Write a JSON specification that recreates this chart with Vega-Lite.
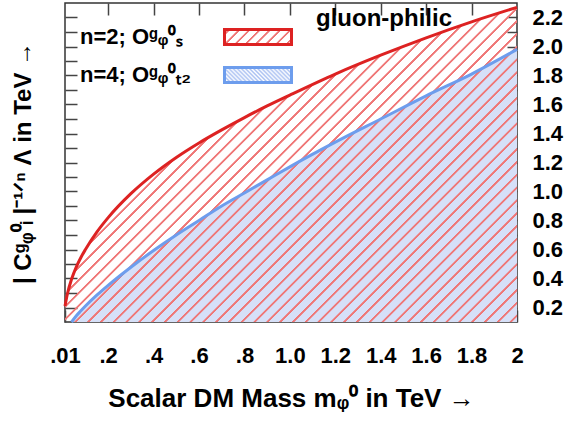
{
"$schema": "https://vega.github.io/schema/vega-lite/v6.json",
"width": 452, "height": 319,
"autosize": {"type": "none"},
"padding": {"left": 65, "top": 3, "right": 50, "bottom": 101},
"background": "white",
"title": {"text": "gluon-philic", "anchor": "end", "frame": "group", "offset": -25, "dx": -65, "dy": 24, "baseline": "alphabetic", "fontSize": 24, "font": "Liberation Sans", "fontWeight": "bold", "color": "#000"},
"config": {
  "view": {"stroke": "#333", "strokeWidth": 1.5},
  "font": "Liberation Sans",
  "axis": {"domain": false, "grid": false, "tickColor": "#444", "tickWidth": 1.5, "labelFont": "Liberation Sans", "labelFontWeight": "bold", "labelFontSize": 22, "labelColor": "#000", "titleFont": "Liberation Sans", "titleFontWeight": "bold", "titleColor": "#000"}
},
"data": {"values": [
  {"series": "n=2; Oᵍᵩ⁰ₛ", "n": 2, "m": 0.01, "v": 0.21},
  {"series": "n=2; Oᵍᵩ⁰ₛ", "n": 2, "m": 0.02, "v": 0.29},
  {"series": "n=2; Oᵍᵩ⁰ₛ", "n": 2, "m": 0.04, "v": 0.40},
  {"series": "n=2; Oᵍᵩ⁰ₛ", "n": 2, "m": 0.06, "v": 0.48},
  {"series": "n=2; Oᵍᵩ⁰ₛ", "n": 2, "m": 0.08, "v": 0.545},
  {"series": "n=2; Oᵍᵩ⁰ₛ", "n": 2, "m": 0.10, "v": 0.60},
  {"series": "n=2; Oᵍᵩ⁰ₛ", "n": 2, "m": 0.15, "v": 0.72},
  {"series": "n=2; Oᵍᵩ⁰ₛ", "n": 2, "m": 0.20, "v": 0.82},
  {"series": "n=2; Oᵍᵩ⁰ₛ", "n": 2, "m": 0.30, "v": 0.985},
  {"series": "n=2; Oᵍᵩ⁰ₛ", "n": 2, "m": 0.40, "v": 1.12},
  {"series": "n=2; Oᵍᵩ⁰ₛ", "n": 2, "m": 0.50, "v": 1.235},
  {"series": "n=2; Oᵍᵩ⁰ₛ", "n": 2, "m": 0.60, "v": 1.335},
  {"series": "n=2; Oᵍᵩ⁰ₛ", "n": 2, "m": 0.70, "v": 1.425},
  {"series": "n=2; Oᵍᵩ⁰ₛ", "n": 2, "m": 0.80, "v": 1.51},
  {"series": "n=2; Oᵍᵩ⁰ₛ", "n": 2, "m": 0.90, "v": 1.59},
  {"series": "n=2; Oᵍᵩ⁰ₛ", "n": 2, "m": 1.00, "v": 1.665},
  {"series": "n=2; Oᵍᵩ⁰ₛ", "n": 2, "m": 1.20, "v": 1.81},
  {"series": "n=2; Oᵍᵩ⁰ₛ", "n": 2, "m": 1.40, "v": 1.94},
  {"series": "n=2; Oᵍᵩ⁰ₛ", "n": 2, "m": 1.60, "v": 2.06},
  {"series": "n=2; Oᵍᵩ⁰ₛ", "n": 2, "m": 1.80, "v": 2.17},
  {"series": "n=2; Oᵍᵩ⁰ₛ", "n": 2, "m": 2.00, "v": 2.27},
  {"series": "n=4; Oᵍᵩ⁰ₜ₂", "n": 4, "m": 0.039, "v": 0.10},
  {"series": "n=4; Oᵍᵩ⁰ₜ₂", "n": 4, "m": 0.06, "v": 0.143},
  {"series": "n=4; Oᵍᵩ⁰ₜ₂", "n": 4, "m": 0.08, "v": 0.177},
  {"series": "n=4; Oᵍᵩ⁰ₜ₂", "n": 4, "m": 0.10, "v": 0.21},
  {"series": "n=4; Oᵍᵩ⁰ₜ₂", "n": 4, "m": 0.15, "v": 0.285},
  {"series": "n=4; Oᵍᵩ⁰ₜ₂", "n": 4, "m": 0.20, "v": 0.353},
  {"series": "n=4; Oᵍᵩ⁰ₜ₂", "n": 4, "m": 0.30, "v": 0.478},
  {"series": "n=4; Oᵍᵩ⁰ₜ₂", "n": 4, "m": 0.40, "v": 0.593},
  {"series": "n=4; Oᵍᵩ⁰ₜ₂", "n": 4, "m": 0.50, "v": 0.70},
  {"series": "n=4; Oᵍᵩ⁰ₜ₂", "n": 4, "m": 0.60, "v": 0.80},
  {"series": "n=4; Oᵍᵩ⁰ₜ₂", "n": 4, "m": 0.70, "v": 0.90},
  {"series": "n=4; Oᵍᵩ⁰ₜ₂", "n": 4, "m": 0.80, "v": 0.99},
  {"series": "n=4; Oᵍᵩ⁰ₜ₂", "n": 4, "m": 0.90, "v": 1.08},
  {"series": "n=4; Oᵍᵩ⁰ₜ₂", "n": 4, "m": 1.00, "v": 1.17},
  {"series": "n=4; Oᵍᵩ⁰ₜ₂", "n": 4, "m": 1.20, "v": 1.34},
  {"series": "n=4; Oᵍᵩ⁰ₜ₂", "n": 4, "m": 1.40, "v": 1.50},
  {"series": "n=4; Oᵍᵩ⁰ₜ₂", "n": 4, "m": 1.60, "v": 1.66},
  {"series": "n=4; Oᵍᵩ⁰ₜ₂", "n": 4, "m": 1.80, "v": 1.81},
  {"series": "n=4; Oᵍᵩ⁰ₜ₂", "n": 4, "m": 2.00, "v": 1.98}
]},
"resolve": {"axis": {"x": "independent", "y": "independent"}},
"layer": [
  {
    "transform": [{"filter": "datum.n == 4"}],
    "mark": {"type": "area", "interpolate": "monotone", "fill": "#d6e0f8"},
    "encoding": {
      "x": {"field": "m", "type": "quantitative", "scale": {"domain": [0.01, 2], "nice": false, "zero": false},
        "axis": {"orient": "bottom", "values": [0.01, 0.2, 0.4, 0.6, 0.8, 1.0, 1.2, 1.4, 1.6, 1.8, 2.0],
          "labelExpr": "datum.value == 0.01 ? '.01' : datum.value == 2 ? '2' : datum.value < 1 ? replace(format(datum.value, '.1f'), '0.', '.') : format(datum.value, '.1f')",
          "tickSize": -12, "labelPadding": 35, "labelFlush": false, "labelOverlap": false,
          "title": "Scalar DM Mass mᵩ⁰ in TeV →", "titleFontSize": 26, "titlePadding": 19}},
      "y": {"field": "v", "type": "quantitative", "scale": {"domain": [0.1, 2.3], "nice": false, "zero": false},
        "axis": {"orient": "left", "values": [0.2,0.3,0.4,0.5,0.6,0.7,0.8,0.9,1.0,1.1,1.2,1.3,1.4,1.5,1.6,1.7,1.8,1.9,2.0,2.1,2.2],
          "labels": false, "tickSize": -12,
          "title": "| Cᵍᵩ⁰ᵢ |⁻¹ᐟⁿ Λ in TeV →", "titleFontSize": 24, "titlePadding": 29}},
      "y2": {"datum": 0.1}
    }
  },
  {
    "transform": [{"filter": "datum.n == 2"}],
    "mark": {"type": "area", "interpolate": "monotone",
      "fill": {"gradient": "linear", "x1": 0, "y1": 0, "x2": 1.1426, "y2": 0.7952, "stops": [
{"offset":0.0040,"color":"rgba(239,119,119,0)"},{"offset":0.0050,"color":"#ef7777"},{"offset":0.0075,"color":"#ef7777"},{"offset":0.0085,"color":"rgba(239,119,119,0)"},
{"offset":0.0207,"color":"rgba(239,119,119,0)"},{"offset":0.0217,"color":"#ef7777"},{"offset":0.0242,"color":"#ef7777"},{"offset":0.0252,"color":"rgba(239,119,119,0)"},
{"offset":0.0374,"color":"rgba(239,119,119,0)"},{"offset":0.0384,"color":"#ef7777"},{"offset":0.0409,"color":"#ef7777"},{"offset":0.0419,"color":"rgba(239,119,119,0)"},
{"offset":0.0541,"color":"rgba(239,119,119,0)"},{"offset":0.0551,"color":"#ef7777"},{"offset":0.0576,"color":"#ef7777"},{"offset":0.0586,"color":"rgba(239,119,119,0)"},
{"offset":0.0708,"color":"rgba(239,119,119,0)"},{"offset":0.0718,"color":"#ef7777"},{"offset":0.0743,"color":"#ef7777"},{"offset":0.0753,"color":"rgba(239,119,119,0)"},
{"offset":0.0875,"color":"rgba(239,119,119,0)"},{"offset":0.0885,"color":"#ef7777"},{"offset":0.0910,"color":"#ef7777"},{"offset":0.0920,"color":"rgba(239,119,119,0)"},
{"offset":0.1042,"color":"rgba(239,119,119,0)"},{"offset":0.1052,"color":"#ef7777"},{"offset":0.1077,"color":"#ef7777"},{"offset":0.1087,"color":"rgba(239,119,119,0)"},
{"offset":0.1209,"color":"rgba(239,119,119,0)"},{"offset":0.1219,"color":"#ef7777"},{"offset":0.1244,"color":"#ef7777"},{"offset":0.1254,"color":"rgba(239,119,119,0)"},
{"offset":0.1376,"color":"rgba(239,119,119,0)"},{"offset":0.1386,"color":"#ef7777"},{"offset":0.1411,"color":"#ef7777"},{"offset":0.1421,"color":"rgba(239,119,119,0)"},
{"offset":0.1543,"color":"rgba(239,119,119,0)"},{"offset":0.1553,"color":"#ef7777"},{"offset":0.1578,"color":"#ef7777"},{"offset":0.1588,"color":"rgba(239,119,119,0)"},
{"offset":0.1710,"color":"rgba(239,119,119,0)"},{"offset":0.1720,"color":"#ef7777"},{"offset":0.1745,"color":"#ef7777"},{"offset":0.1755,"color":"rgba(239,119,119,0)"},
{"offset":0.1877,"color":"rgba(239,119,119,0)"},{"offset":0.1887,"color":"#ef7777"},{"offset":0.1912,"color":"#ef7777"},{"offset":0.1922,"color":"rgba(239,119,119,0)"},
{"offset":0.2044,"color":"rgba(239,119,119,0)"},{"offset":0.2054,"color":"#ef7777"},{"offset":0.2079,"color":"#ef7777"},{"offset":0.2089,"color":"rgba(239,119,119,0)"},
{"offset":0.2211,"color":"rgba(239,119,119,0)"},{"offset":0.2221,"color":"#ef7777"},{"offset":0.2246,"color":"#ef7777"},{"offset":0.2256,"color":"rgba(239,119,119,0)"},
{"offset":0.2378,"color":"rgba(239,119,119,0)"},{"offset":0.2388,"color":"#ef7777"},{"offset":0.2413,"color":"#ef7777"},{"offset":0.2423,"color":"rgba(239,119,119,0)"},
{"offset":0.2545,"color":"rgba(239,119,119,0)"},{"offset":0.2555,"color":"#ef7777"},{"offset":0.2580,"color":"#ef7777"},{"offset":0.2590,"color":"rgba(239,119,119,0)"},
{"offset":0.2712,"color":"rgba(239,119,119,0)"},{"offset":0.2722,"color":"#ef7777"},{"offset":0.2747,"color":"#ef7777"},{"offset":0.2757,"color":"rgba(239,119,119,0)"},
{"offset":0.2879,"color":"rgba(239,119,119,0)"},{"offset":0.2889,"color":"#ef7777"},{"offset":0.2914,"color":"#ef7777"},{"offset":0.2924,"color":"rgba(239,119,119,0)"},
{"offset":0.3046,"color":"rgba(239,119,119,0)"},{"offset":0.3056,"color":"#ef7777"},{"offset":0.3081,"color":"#ef7777"},{"offset":0.3091,"color":"rgba(239,119,119,0)"},
{"offset":0.3213,"color":"rgba(239,119,119,0)"},{"offset":0.3223,"color":"#ef7777"},{"offset":0.3248,"color":"#ef7777"},{"offset":0.3258,"color":"rgba(239,119,119,0)"},
{"offset":0.3380,"color":"rgba(239,119,119,0)"},{"offset":0.3390,"color":"#ef7777"},{"offset":0.3415,"color":"#ef7777"},{"offset":0.3425,"color":"rgba(239,119,119,0)"},
{"offset":0.3547,"color":"rgba(239,119,119,0)"},{"offset":0.3557,"color":"#ef7777"},{"offset":0.3582,"color":"#ef7777"},{"offset":0.3592,"color":"rgba(239,119,119,0)"},
{"offset":0.3714,"color":"rgba(239,119,119,0)"},{"offset":0.3724,"color":"#ef7777"},{"offset":0.3749,"color":"#ef7777"},{"offset":0.3759,"color":"rgba(239,119,119,0)"},
{"offset":0.3881,"color":"rgba(239,119,119,0)"},{"offset":0.3891,"color":"#ef7777"},{"offset":0.3916,"color":"#ef7777"},{"offset":0.3926,"color":"rgba(239,119,119,0)"},
{"offset":0.4048,"color":"rgba(239,119,119,0)"},{"offset":0.4058,"color":"#ef7777"},{"offset":0.4083,"color":"#ef7777"},{"offset":0.4093,"color":"rgba(239,119,119,0)"},
{"offset":0.4215,"color":"rgba(239,119,119,0)"},{"offset":0.4225,"color":"#ef7777"},{"offset":0.4250,"color":"#ef7777"},{"offset":0.4260,"color":"rgba(239,119,119,0)"},
{"offset":0.4382,"color":"rgba(239,119,119,0)"},{"offset":0.4392,"color":"#ef7777"},{"offset":0.4417,"color":"#ef7777"},{"offset":0.4427,"color":"rgba(239,119,119,0)"},
{"offset":0.4549,"color":"rgba(239,119,119,0)"},{"offset":0.4559,"color":"#ef7777"},{"offset":0.4584,"color":"#ef7777"},{"offset":0.4594,"color":"rgba(239,119,119,0)"},
{"offset":0.4716,"color":"rgba(239,119,119,0)"},{"offset":0.4726,"color":"#ef7777"},{"offset":0.4751,"color":"#ef7777"},{"offset":0.4761,"color":"rgba(239,119,119,0)"},
{"offset":0.4883,"color":"rgba(239,119,119,0)"},{"offset":0.4893,"color":"#ef7777"},{"offset":0.4918,"color":"#ef7777"},{"offset":0.4928,"color":"rgba(239,119,119,0)"},
{"offset":0.5050,"color":"rgba(239,119,119,0)"},{"offset":0.5060,"color":"#ef7777"},{"offset":0.5085,"color":"#ef7777"},{"offset":0.5095,"color":"rgba(239,119,119,0)"},
{"offset":0.5217,"color":"rgba(239,119,119,0)"},{"offset":0.5227,"color":"#ef7777"},{"offset":0.5252,"color":"#ef7777"},{"offset":0.5262,"color":"rgba(239,119,119,0)"},
{"offset":0.5384,"color":"rgba(239,119,119,0)"},{"offset":0.5394,"color":"#ef7777"},{"offset":0.5419,"color":"#ef7777"},{"offset":0.5429,"color":"rgba(239,119,119,0)"},
{"offset":0.5551,"color":"rgba(239,119,119,0)"},{"offset":0.5561,"color":"#ef7777"},{"offset":0.5586,"color":"#ef7777"},{"offset":0.5596,"color":"rgba(239,119,119,0)"},
{"offset":0.5718,"color":"rgba(239,119,119,0)"},{"offset":0.5728,"color":"#ef7777"},{"offset":0.5753,"color":"#ef7777"},{"offset":0.5763,"color":"rgba(239,119,119,0)"},
{"offset":0.5885,"color":"rgba(239,119,119,0)"},{"offset":0.5895,"color":"#ef7777"},{"offset":0.5920,"color":"#ef7777"},{"offset":0.5930,"color":"rgba(239,119,119,0)"},
{"offset":0.6052,"color":"rgba(239,119,119,0)"},{"offset":0.6062,"color":"#ef7777"},{"offset":0.6087,"color":"#ef7777"},{"offset":0.6097,"color":"rgba(239,119,119,0)"},
{"offset":0.6219,"color":"rgba(239,119,119,0)"},{"offset":0.6229,"color":"#ef7777"},{"offset":0.6254,"color":"#ef7777"},{"offset":0.6264,"color":"rgba(239,119,119,0)"},
{"offset":0.6386,"color":"rgba(239,119,119,0)"},{"offset":0.6396,"color":"#ef7777"},{"offset":0.6421,"color":"#ef7777"},{"offset":0.6431,"color":"rgba(239,119,119,0)"},
{"offset":0.6553,"color":"rgba(239,119,119,0)"},{"offset":0.6563,"color":"#ef7777"},{"offset":0.6588,"color":"#ef7777"},{"offset":0.6598,"color":"rgba(239,119,119,0)"},
{"offset":0.6720,"color":"rgba(239,119,119,0)"},{"offset":0.6730,"color":"#ef7777"},{"offset":0.6755,"color":"#ef7777"},{"offset":0.6765,"color":"rgba(239,119,119,0)"},
{"offset":0.6887,"color":"rgba(239,119,119,0)"},{"offset":0.6897,"color":"#ef7777"},{"offset":0.6922,"color":"#ef7777"},{"offset":0.6932,"color":"rgba(239,119,119,0)"},
{"offset":0.7054,"color":"rgba(239,119,119,0)"},{"offset":0.7064,"color":"#ef7777"},{"offset":0.7089,"color":"#ef7777"},{"offset":0.7099,"color":"rgba(239,119,119,0)"},
{"offset":0.7221,"color":"rgba(239,119,119,0)"},{"offset":0.7231,"color":"#ef7777"},{"offset":0.7256,"color":"#ef7777"},{"offset":0.7266,"color":"rgba(239,119,119,0)"},
{"offset":0.7388,"color":"rgba(239,119,119,0)"},{"offset":0.7398,"color":"#ef7777"},{"offset":0.7423,"color":"#ef7777"},{"offset":0.7433,"color":"rgba(239,119,119,0)"},
{"offset":0.7555,"color":"rgba(239,119,119,0)"},{"offset":0.7565,"color":"#ef7777"},{"offset":0.7590,"color":"#ef7777"},{"offset":0.7600,"color":"rgba(239,119,119,0)"},
{"offset":0.7722,"color":"rgba(239,119,119,0)"},{"offset":0.7732,"color":"#ef7777"},{"offset":0.7757,"color":"#ef7777"},{"offset":0.7767,"color":"rgba(239,119,119,0)"},
{"offset":0.7889,"color":"rgba(239,119,119,0)"},{"offset":0.7899,"color":"#ef7777"},{"offset":0.7924,"color":"#ef7777"},{"offset":0.7934,"color":"rgba(239,119,119,0)"},
{"offset":0.8056,"color":"rgba(239,119,119,0)"},{"offset":0.8066,"color":"#ef7777"},{"offset":0.8091,"color":"#ef7777"},{"offset":0.8101,"color":"rgba(239,119,119,0)"},
{"offset":0.8223,"color":"rgba(239,119,119,0)"},{"offset":0.8233,"color":"#ef7777"},{"offset":0.8258,"color":"#ef7777"},{"offset":0.8268,"color":"rgba(239,119,119,0)"},
{"offset":0.8390,"color":"rgba(239,119,119,0)"},{"offset":0.8400,"color":"#ef7777"},{"offset":0.8425,"color":"#ef7777"},{"offset":0.8435,"color":"rgba(239,119,119,0)"},
{"offset":0.8557,"color":"rgba(239,119,119,0)"},{"offset":0.8567,"color":"#ef7777"},{"offset":0.8592,"color":"#ef7777"},{"offset":0.8602,"color":"rgba(239,119,119,0)"},
{"offset":0.8724,"color":"rgba(239,119,119,0)"},{"offset":0.8734,"color":"#ef7777"},{"offset":0.8759,"color":"#ef7777"},{"offset":0.8769,"color":"rgba(239,119,119,0)"},
{"offset":0.8891,"color":"rgba(239,119,119,0)"},{"offset":0.8901,"color":"#ef7777"},{"offset":0.8926,"color":"#ef7777"},{"offset":0.8936,"color":"rgba(239,119,119,0)"},
{"offset":0.9058,"color":"rgba(239,119,119,0)"},{"offset":0.9068,"color":"#ef7777"},{"offset":0.9093,"color":"#ef7777"},{"offset":0.9103,"color":"rgba(239,119,119,0)"},
{"offset":0.9225,"color":"rgba(239,119,119,0)"},{"offset":0.9235,"color":"#ef7777"},{"offset":0.9260,"color":"#ef7777"},{"offset":0.9270,"color":"rgba(239,119,119,0)"},
{"offset":0.9392,"color":"rgba(239,119,119,0)"},{"offset":0.9402,"color":"#ef7777"},{"offset":0.9427,"color":"#ef7777"},{"offset":0.9437,"color":"rgba(239,119,119,0)"},
{"offset":0.9559,"color":"rgba(239,119,119,0)"},{"offset":0.9569,"color":"#ef7777"},{"offset":0.9594,"color":"#ef7777"},{"offset":0.9604,"color":"rgba(239,119,119,0)"},
{"offset":0.9726,"color":"rgba(239,119,119,0)"},{"offset":0.9736,"color":"#ef7777"},{"offset":0.9761,"color":"#ef7777"},{"offset":0.9771,"color":"rgba(239,119,119,0)"},
{"offset":0.9893,"color":"rgba(239,119,119,0)"},{"offset":0.9903,"color":"#ef7777"},{"offset":0.9928,"color":"#ef7777"},{"offset":0.9938,"color":"rgba(239,119,119,0)"}
      ]}},
    "encoding": {
      "x": {"field": "m", "type": "quantitative",
        "axis": {"orient": "top", "values": [0.2, 0.4, 0.6, 0.8, 1.0, 1.2, 1.4, 1.6, 1.8], "labels": false, "tickSize": -12, "title": null}},
      "y": {"field": "v", "type": "quantitative",
        "axis": {"orient": "right", "values": [0.2,0.3,0.4,0.5,0.6,0.7,0.8,0.9,1.0,1.1,1.2,1.3,1.4,1.5,1.6,1.7,1.8,1.9,2.0,2.1,2.2],
          "labelExpr": "(round(datum.value*10) % 2 == 0) ? format(datum.value, '.1f') : ''",
          "tickSize": -10, "labelPadding": 25, "labelFlush": false, "labelOverlap": false, "title": null}},
      "y2": {"datum": 0.1}
    }
  },
  {
    "mark": {"type": "line", "interpolate": "monotone", "strokeWidth": 3},
    "encoding": {
      "x": {"field": "m", "type": "quantitative", "axis": null},
      "y": {"field": "v", "type": "quantitative", "axis": null},
      "stroke": {"field": "series", "type": "nominal",
        "scale": {"domain": ["n=2; Oᵍᵩ⁰ₛ", "n=4; Oᵍᵩ⁰ₜ₂"], "range": ["#dd2222", "#6d9ded"]},
        "legend": {"orient": "none", "legendX": 169, "legendY": 10, "title": null, "padding": 0,
          "symbolType": "M-1.489,-0.333H1.489V0.333H-1.489Z", "symbolSize": 2025, "symbolStrokeWidth": 3,
          "labelFont": "Liberation Sans", "labelFontWeight": "bold", "labelFontSize": 22, "labelColor": "#000",
          "labelAlign": "left", "labelOffset": -202, "labelLimit": 0, "rowPadding": 0,
          "encode": {"symbols": {"update": {"fill": [
            {"test": "datum.index == 0", "value": {"gradient": "linear", "x1": 0, "y1": 0, "x2": 1.1657, "y2": 0.2611, "stops": [
              {"offset":0.04,"color":"#ffffff"},{"offset":0.05,"color":"#ef7777"},{"offset":0.07,"color":"#ef7777"},{"offset":0.08,"color":"#ffffff"},
              {"offset":0.165,"color":"#ffffff"},{"offset":0.175,"color":"#ef7777"},{"offset":0.195,"color":"#ef7777"},{"offset":0.205,"color":"#ffffff"},
              {"offset":0.29,"color":"#ffffff"},{"offset":0.30,"color":"#ef7777"},{"offset":0.32,"color":"#ef7777"},{"offset":0.33,"color":"#ffffff"},
              {"offset":0.415,"color":"#ffffff"},{"offset":0.425,"color":"#ef7777"},{"offset":0.445,"color":"#ef7777"},{"offset":0.455,"color":"#ffffff"},
              {"offset":0.54,"color":"#ffffff"},{"offset":0.55,"color":"#ef7777"},{"offset":0.57,"color":"#ef7777"},{"offset":0.58,"color":"#ffffff"},
              {"offset":0.665,"color":"#ffffff"},{"offset":0.675,"color":"#ef7777"},{"offset":0.695,"color":"#ef7777"},{"offset":0.705,"color":"#ffffff"},
              {"offset":0.79,"color":"#ffffff"},{"offset":0.80,"color":"#ef7777"},{"offset":0.82,"color":"#ef7777"},{"offset":0.83,"color":"#ffffff"},
              {"offset":0.915,"color":"#ffffff"},{"offset":0.925,"color":"#ef7777"},{"offset":0.945,"color":"#ef7777"},{"offset":0.955,"color":"#ffffff"}]}},
            {"value": {"gradient": "linear", "x1": 0, "y1": 1, "x2": 1.1657, "y2": 0.7389, "stops": [
              {"offset":0,"color":"#ffffff"},{"offset":0.025,"color":"#a9c0f2"},{"offset":0.05,"color":"#ffffff"},{"offset":0.075,"color":"#a9c0f2"},
              {"offset":0.1,"color":"#ffffff"},{"offset":0.125,"color":"#a9c0f2"},{"offset":0.15,"color":"#ffffff"},{"offset":0.175,"color":"#a9c0f2"},
              {"offset":0.2,"color":"#ffffff"},{"offset":0.225,"color":"#a9c0f2"},{"offset":0.25,"color":"#ffffff"},{"offset":0.275,"color":"#a9c0f2"},
              {"offset":0.3,"color":"#ffffff"},{"offset":0.325,"color":"#a9c0f2"},{"offset":0.35,"color":"#ffffff"},{"offset":0.375,"color":"#a9c0f2"},
              {"offset":0.4,"color":"#ffffff"},{"offset":0.425,"color":"#a9c0f2"},{"offset":0.45,"color":"#ffffff"},{"offset":0.475,"color":"#a9c0f2"},
              {"offset":0.5,"color":"#ffffff"},{"offset":0.525,"color":"#a9c0f2"},{"offset":0.55,"color":"#ffffff"},{"offset":0.575,"color":"#a9c0f2"},
              {"offset":0.6,"color":"#ffffff"},{"offset":0.625,"color":"#a9c0f2"},{"offset":0.65,"color":"#ffffff"},{"offset":0.675,"color":"#a9c0f2"},
              {"offset":0.7,"color":"#ffffff"},{"offset":0.725,"color":"#a9c0f2"},{"offset":0.75,"color":"#ffffff"},{"offset":0.775,"color":"#a9c0f2"},
              {"offset":0.8,"color":"#ffffff"},{"offset":0.825,"color":"#a9c0f2"},{"offset":0.85,"color":"#ffffff"},{"offset":0.875,"color":"#a9c0f2"},
              {"offset":0.9,"color":"#ffffff"},{"offset":0.925,"color":"#a9c0f2"},{"offset":0.95,"color":"#ffffff"},{"offset":0.975,"color":"#a9c0f2"},
              {"offset":1,"color":"#ffffff"}]}}
          ]}}}}}
    }
  }
]
}
